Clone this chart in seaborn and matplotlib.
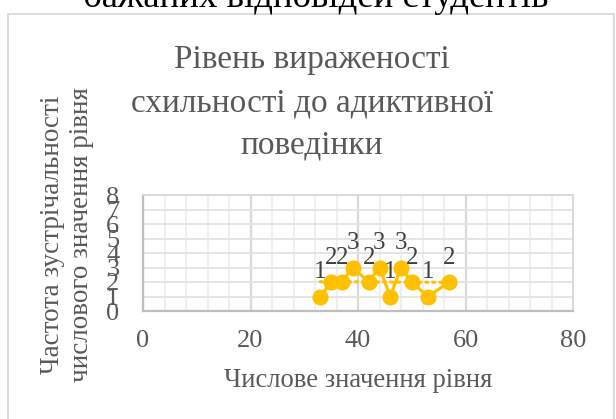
import numpy as np
import pandas as pd
import matplotlib
matplotlib.use("Agg")
import matplotlib.pyplot as plt
import seaborn as sns
from matplotlib.patches import Rectangle
from matplotlib.ticker import MultipleLocator

# Numeric level values and how often each occurred
level = [33, 35, 37, 39, 42, 44, 46, 48, 50, 53, 57]
freq = [1, 2, 2, 3, 2, 3, 1, 3, 2, 1, 2]

x_ticks = [0, 20, 40, 60, 80]
y_ticks = [0, 1, 2, 3, 4, 5, 6, 7, 8]

heading = "бажаних відповідей студентів"
title_lines = ["Рівень вираженості", "схильності до адиктивної", "поведінки"]
x_label = "Числове значення рівня"
y_label = "Частота зустрічальності\nчислового значення рівня"

sns.set_theme(style="white")
plt.rcParams["font.family"] = ["Liberation Serif", "DejaVu Serif"]

GOLD = "#FFC000"
GRID = "#d9d9d9"
TXT = "#595959"

fig = plt.figure(figsize=(6.16, 4.19), dpi=100)
W, H = 616, 419

# outer chart frame
fig.patches.append(Rectangle((8 / W, -0.05), (614 - 8) / W, 1 - 14 / H + 0.05,
                             transform=fig.transFigure, fill=False,
                             edgecolor=GRID, linewidth=1.3))

# caption line running above the chart frame
fig.text(316 / W, 1 - 7 / H, heading, ha="center", va="baseline",
         fontsize=26.5, color="black")

ax = fig.add_axes([143 / W, 1 - 311 / H, (573 - 143) / W, (311 - 195) / H])

df = pd.DataFrame({"level": level, "freq": freq})
sns.lineplot(data=df, x="level", y="freq", ax=ax, color=GOLD, linewidth=2.3,
             marker="o", markersize=10.8, markeredgecolor=GOLD, zorder=3)

# linear trend over the data range
coef = np.polyfit(level, freq, 1)
xs = np.array([min(level), max(level)])
ax.plot(xs, np.polyval(coef, xs), linestyle=(0, (0.6, 1.6)), color=GOLD,
        linewidth=2.3, dash_capstyle="round", zorder=2)

# value labels above each point
for xv, yv in zip(level, freq):
    ax.annotate(str(yv), (xv, yv), xytext=(0, 9.5), textcoords="offset points",
                ha="center", va="bottom", fontsize=18, color="#404040")

ax.set_xlim(0, 80)
ax.set_ylim(0, 8)
ax.set_xticks(x_ticks)
ax.set_yticks(y_ticks)
ax.xaxis.set_minor_locator(MultipleLocator(4))
ax.grid(which="major", axis="x", color=GRID, linewidth=1.6)
ax.grid(which="minor", axis="x", color="#ebebeb", linewidth=1.1)
ax.grid(which="major", axis="y", color="#e3e3e3", linewidth=1.3)
ax.tick_params(axis="both", which="both", length=0, labelsize=19,
               labelcolor=TXT)
ax.tick_params(axis="x", pad=14)
ax.tick_params(axis="y", pad=17)
for side in ["top", "right"]:
    ax.spines[side].set_color(GRID)
    ax.spines[side].set_linewidth(1.3)
for side in ["left", "bottom"]:
    ax.spines[side].set_color("#bfbfbf")
    ax.spines[side].set_linewidth(1.6)

ax.set_xlabel("")
ax.set_ylabel("")
fig.text(358 / W, 1 - 387 / H, x_label, ha="center", va="baseline",
         fontsize=19.2, color=TXT)
fig.text(67 / W, 1 - 235 / H, y_label, rotation=90, ha="center", va="center",
         fontsize=19.5, color=TXT, linespacing=1.2, multialignment="center")

# chart title, one line at a time
for line, base in zip(title_lines, [68, 111, 153]):
    fig.text(312 / W, 1 - base / H, line, ha="center", va="baseline",
             fontsize=24, color=TXT)

fig.savefig("out.png", dpi=100)
